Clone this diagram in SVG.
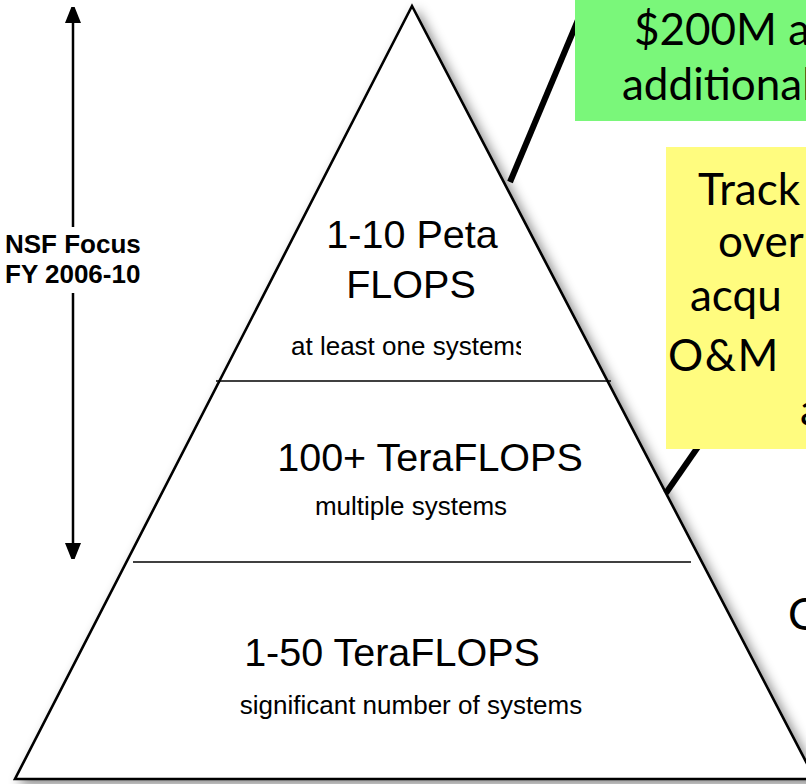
<svg xmlns="http://www.w3.org/2000/svg" width="806" height="784" viewBox="0 0 806 784">
<style>
.big{font-family:"Liberation Sans",Arial,sans-serif;font-size:39.5px;fill:#000}
.small{font-family:"Liberation Sans",Arial,sans-serif;font-size:26px;fill:#000}
.bold{font-family:"Liberation Sans",Arial,sans-serif;font-size:26px;font-weight:bold;fill:#000}
.gill{font-family:Lato,"Open Sans",sans-serif;font-size:44px;fill:#000}
.tier{stroke:#000;stroke-width:1.6}
.callout{stroke:#000;stroke-width:6;stroke-linecap:butt}
</style>
<defs>
<filter id="shadow" x="-10%" y="-10%" width="130%" height="130%">
<feDropShadow dx="5" dy="5" stdDeviation="6" flood-color="#000" flood-opacity="0.45"/>
</filter>
<marker id="ah" viewBox="0 0 16 20" refX="16" refY="8" markerWidth="16" markerHeight="20" markerUnits="userSpaceOnUse" orient="auto">
<path d="M0,0 L20,8 L0,16 z" fill="#000"/>
</marker>
<clipPath id="clipSys"><rect x="0" y="320" width="521" height="60"/></clipPath>
</defs>
<rect width="806" height="784" fill="#fff"/>
<g id="pyramid">
<polygon points="412,6 15,779 815,779" fill="#fff" stroke="#000" stroke-width="2.6" stroke-linejoin="miter" filter="url(#shadow)"/>
<line class="tier" x1="216" y1="381" x2="611" y2="381"/>
<line class="tier" x1="133" y1="562" x2="691" y2="562"/>
</g>
<g id="tier-peta">
<text class="big" x="412" y="248" text-anchor="middle">1-10 Peta</text>
<text class="big" x="411" y="298" text-anchor="middle">FLOPS</text>
<text class="small" x="291" y="355" clip-path="url(#clipSys)">at least one systems</text>
</g>
<g id="tier-100tera">
<text class="big" x="430" y="471" text-anchor="middle">100+ TeraFLOPS</text>
<text class="small" x="411" y="515" text-anchor="middle">multiple systems</text>
</g>
<g id="tier-150tera">
<text class="big" x="392" y="666" text-anchor="middle">1-50 TeraFLOPS</text>
<text class="small" x="411" y="714" text-anchor="middle">significant number of systems</text>
</g>
<g id="connectors">
<line x1="73" y1="227" x2="73" y2="7" stroke="#000" stroke-width="2.5" marker-end="url(#ah)"/>
<line x1="73" y1="293" x2="73" y2="559" stroke="#000" stroke-width="2.5" marker-end="url(#ah)"/>
<line class="callout" x1="510" y1="182" x2="578" y2="20"/>
<line class="callout" x1="666" y1="493" x2="700" y2="444"/>
</g>
<g id="nsf-focus">
<text class="bold" x="5" y="253">NSF Focus</text>
<text class="bold" x="5" y="283">FY 2006-10</text>
</g>
<g id="green-box">
<rect x="575" y="-2" width="240" height="123" fill="#7AF77A"/>
<text class="gill" x="634" y="45">$200M ac</text>
<text class="gill" x="622" y="100">additional</text>
</g>
<g id="yellow-box">
<rect x="666" y="147" width="150" height="302" fill="#FFFC7F"/>
<text class="gill" x="698" y="205">Track</text>
<text class="gill" x="718" y="257">over</text>
<text class="gill" x="690" y="311">acqu</text>
<text class="gill" x="668" y="371" letter-spacing="1.5">O&amp;M</text>
<text class="gill" x="800" y="425">a</text>
</g>
<g id="right-text">
<text class="gill" x="788" y="630">C</text>
</g>
</svg>
